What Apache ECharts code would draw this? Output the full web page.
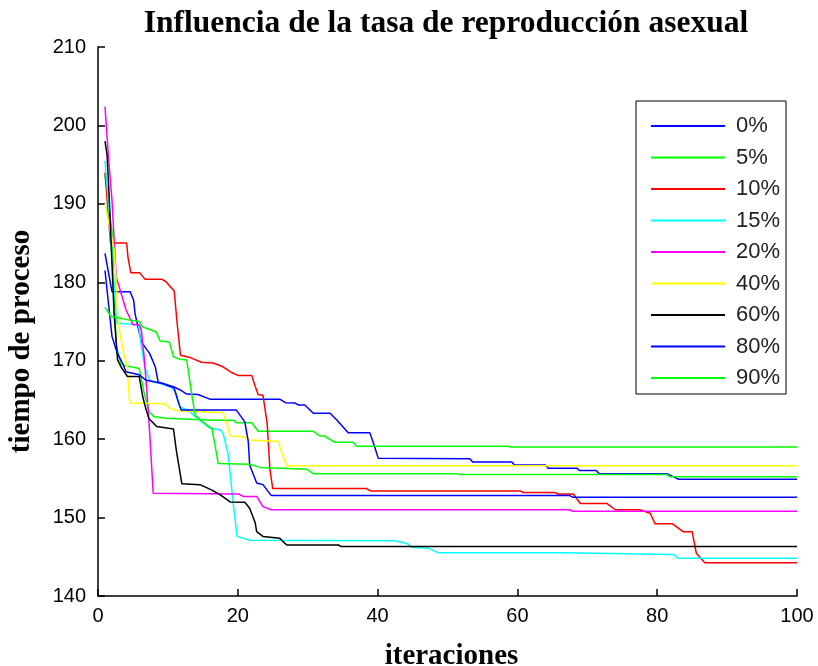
<!DOCTYPE html>
<html><head><meta charset="utf-8">
<script src="https://cdn.jsdelivr.net/npm/echarts@6/dist/echarts.min.js"></script>
<style>html,body{margin:0;padding:0;background:#fff}#c{width:818px;height:666px}</style>
</head><body><div id="c"></div>
<script>
const seriesNames = ['0%','5%','10%','15%','20%','40%','60%','80%','90%'];
const seriesColors = ['#0000ff','#00ff00','#ff0000','#00ffff','#ff00ff','#ffff00','#000000','#0000ff','#00ff00'];
const xTicks = [0,20,40,60,80,100];
const yTicks = [140,150,160,170,180,190,200,210];

const s0 = [[1,183.7],[2,178.8],[4.6,178.8],[5.1,177.7],[5.3,176],[6.2,172.4],[7.4,170.9],[8.2,169.2],[8.6,167.3],[10.8,166.7],[11.7,166.3],[12.7,165.75],[14.3,165.7],[16,165.1],[26,165.1],[26.8,164.65],[28.2,164.6],[28.7,164.35],[29.6,164.35],[30.8,163.3],[33.2,163.3],[34.1,162.5],[35.8,160.8],[38.9,160.8],[39.4,159.5],[40.1,157.55],[53.2,157.5],[53.6,157.1],[59.2,157.1],[59.6,156.7],[64,156.7],[64.4,156.3],[68.5,156.3],[68.9,156.0],[71.3,156.0],[71.7,155.6],[81.4,155.6],[83,154.9],[100,154.9]];
const s5 = [[1,193.8],[1.5,190],[2,186.5],[2.6,172],[3.3,169.5],[5.9,169.0],[6.6,165.9],[7.3,163.5],[8,162.9],[9.7,162.65],[16.5,162.4],[19.4,162.4],[19.8,162.1],[22,162.1],[22.9,161.0],[30.8,161.0],[31.8,160.4],[32.4,160.4],[33.9,159.6],[36.5,159.6],[37,159.1],[58.6,159.1],[59,159.0],[100,159.0]];
const s10 = [[1,194],[1.8,185],[4.1,185],[4.3,183.1],[4.7,181.2],[6,181.2],[6.7,180.4],[9.1,180.4],[9.7,180.1],[10.9,178.9],[11.3,175],[11.8,170.7],[13.2,170.4],[14.8,169.8],[16.5,169.7],[17.7,169.3],[19.1,168.5],[20.1,168.1],[22,168.1],[22.5,166.7],[22.9,165.7],[23.6,165.6],[24.2,162.0],[24.6,156.1],[25,153.7],[38.4,153.7],[39,153.4],[60.4,153.4],[60.8,153.2],[65.4,153.2],[65.8,153.0],[68,153.0],[69,151.8],[72.8,151.8],[74,151.0],[77.5,151.0],[79,150.55],[79.7,149.2],[82.2,149.2],[83.7,148.2],[85,148.2],[85.6,145.45],[86.8,144.25],[100,144.25]];
const s15 = [[1,195.5],[1.5,190],[2,183],[2.7,174.8],[5.8,174.6],[6.2,171.8],[6.7,169.2],[7.4,167.5],[8.9,167.1],[10.5,166.6],[11.2,165.8],[11.7,164.1],[12.9,163.7],[13.9,162.9],[16,161.4],[17.5,161.2],[17.9,160.7],[18.6,158.2],[19.4,151.4],[19.9,147.6],[21.7,147.1],[42.5,147.05],[44.2,146.7],[44.9,146.2],[47.3,146.1],[48.7,145.5],[66.6,145.5],[66.8,145.3],[82.3,145.3],[83,144.8],[100,144.8]];
const s20 = [[1,202.4],[1.5,196],[2,190.5],[2.6,180.7],[4,176.5],[5,174.6],[5.9,174.6],[6.2,173.9],[6.6,170.5],[7,166],[7.4,160.7],[7.9,153.1],[20.1,153.0],[20.8,152.7],[22.7,152.7],[23.6,151.4],[24.8,151.0],[67.5,151.0],[67.9,150.8],[100,150.8]];
const s40 = [[1,190],[1.9,186],[2.3,184.1],[2.6,180.3],[2.8,176],[3.3,172.6],[3.8,170.5],[4.2,169.2],[4.5,165],[4.7,164.6],[9.6,164.5],[10.3,163.9],[11.7,163.6],[17.9,163.4],[18.4,162.0],[18.9,160.4],[20.8,160.3],[21.7,159.9],[25.8,159.7],[26.3,158.2],[27,156.6],[100,156.6]];
const s60 = [[1,198],[1.3,196.2],[1.6,191],[1.9,184.5],[2.1,180.3],[2.3,176],[2.8,170.1],[3.3,169.2],[4.2,168],[5.9,168],[6.4,165.4],[6.9,163.7],[7.3,162.6],[8.4,161.6],[10.8,161.3],[11.2,158.6],[12,154.3],[14.6,154.2],[16.3,153.5],[17.5,152.9],[18.9,152.0],[21,151.95],[21.7,151.2],[22.5,149.3],[22.7,148.2],[23.6,147.6],[26,147.35],[27,146.5],[34.4,146.5],[34.8,146.3],[100,146.3]];
const s80 = [[1,181.5],[1.7,175.6],[2,173.1],[2.7,171.1],[3.6,169.5],[4,168.6],[5.9,168.2],[6.9,167.5],[9.2,167.1],[10.9,166.5],[11.4,165.0],[11.9,163.7],[19.8,163.7],[21.0,162.2],[21.5,159.7],[21.7,156.7],[22.7,154.4],[23.6,154.2],[24.8,152.8],[67.5,152.8],[67.9,152.6],[100,152.6]];
const s90 = [[1,176.8],[1.9,175.6],[3.3,175.4],[4.5,175.2],[5.9,175.0],[6.4,174.3],[8.3,173.7],[8.9,172.5],[10.2,172.4],[10.8,170.5],[11.7,170.2],[12.7,170.1],[13.4,165.8],[13.9,163.0],[16,161.5],[16.3,161.4],[17.2,156.9],[21.7,156.8],[23.2,156.4],[29.9,156.15],[30.8,155.6],[51.4,155.6],[51.8,155.5],[81.4,155.5],[81.8,155.2],[100,155.2]];
const seriesData = [s0,s5,s10,s15,s20,s40,s60,s80,s90];

const chart = echarts.init(document.getElementById('c'), null, {renderer:'canvas'});
const axisFont = {fontFamily:'Liberation Sans, Arial, sans-serif', fontSize:20, color:'#000'};
const serifBold = {fontFamily:'Liberation Serif, Times New Roman, serif', fontWeight:'bold', color:'#000'};
chart.setOption({
  animation:false,
  backgroundColor:'#fff',
  title:{
    text:'Influencia de la tasa de reproducción asexual',
    left:441, top:3, textAlign:'center',
    textStyle:Object.assign({fontSize:31.5}, serifBold)
  },
  grid:{left:98, right:21, top:47, bottom:70, containLabel:false, outerBoundsMode:'none'},
  legend:{
    orient:'vertical', left:636, top:101,
    data:seriesNames,
    icon:'rect', itemWidth:74, itemHeight:2, itemGap:9.5,
    padding:[14,6,5,15],
    borderColor:'#000', borderWidth:1, backgroundColor:'#fff',
    textStyle:{fontFamily:'Liberation Sans, Arial, sans-serif', fontSize:22, lineHeight:20, color:'#222', padding:[0,0,0,6]}
  },
  xAxis:{
    type:'value', min:0, max:100, interval:20,
    name:'iteraciones', nameLocation:'middle', nameGap:46,
    nameTextStyle:Object.assign({fontSize:29, padding:[0,0,0,8]}, serifBold),
    axisLine:{lineStyle:{color:'#000', width:1.5}},
    axisTick:{inside:true, length:7, lineStyle:{color:'#000', width:1.5}},
    axisLabel:Object.assign({margin:10, formatter:v=>xTicks.includes(v)?String(v):''}, axisFont),
    splitLine:{show:false}
  },
  yAxis:{
    type:'value', min:140, max:210, interval:10,
    name:'tiempo de proceso', nameLocation:'middle', nameGap:62, nameRotate:90,
    nameTextStyle:Object.assign({fontSize:29, padding:[0,40,0,0]}, serifBold),
    axisLine:{show:true, lineStyle:{color:'#000', width:1.5}},
    axisTick:{show:true, inside:true, length:7, lineStyle:{color:'#000', width:1.5}},
    axisLabel:Object.assign({margin:12, formatter:v=>yTicks.includes(v)?String(v):''}, axisFont),
    splitLine:{show:false}
  },
  series: seriesNames.map((n,i)=>({
    name:n, type:'line', data:seriesData[i], showSymbol:false, symbol:'none',
    lineStyle:{color:seriesColors[i], width:1.5}, itemStyle:{color:seriesColors[i]},
    z:2+i
  }))
});
</script></body></html>
